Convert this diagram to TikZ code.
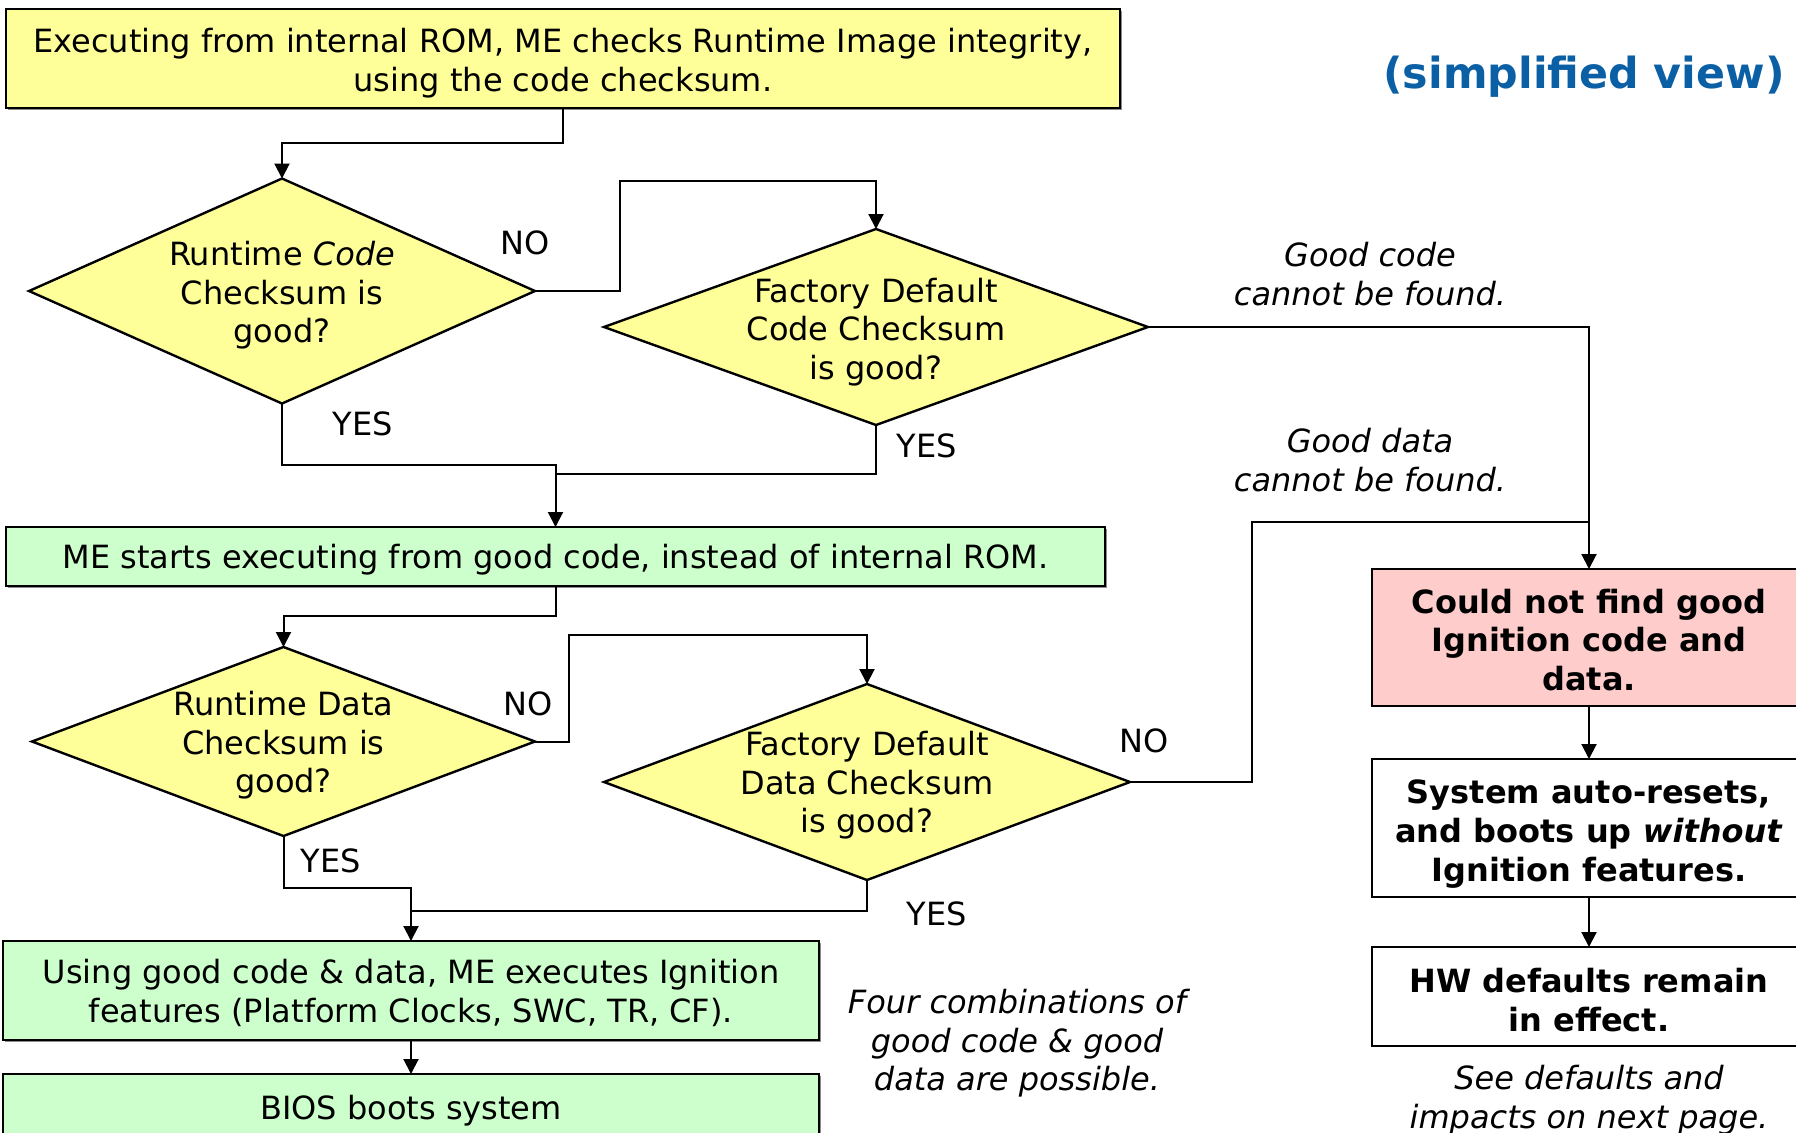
\documentclass[tikz,border=0pt]{standalone}
\usepackage{fontspec}
\setmainfont{DejaVu Sans}
\usetikzlibrary{shapes.geometric,arrows.meta,calc,shadows}
\definecolor{boxyellow}{HTML}{FFFF99}
\definecolor{boxgreen}{HTML}{CCFFCC}
\definecolor{boxpink}{HTML}{FFCCCC}
\definecolor{titleblue}{HTML}{0B5FA5}
% invisible strut that sets the height of a box's first line
\newcommand{\firstline}[1]{\rule{0pt}{#1}}
\begin{document}
\begin{tikzpicture}[x=0.5pt,y=-0.5pt,
  every node/.style={font=\fontsize{16}{19.3}\selectfont, align=center, inner sep=0pt, outer sep=0pt},
  box/.style={draw=black, line width=1.2pt, rectangle},
  shadowed/.style={drop shadow={shadow xshift=0.9pt, shadow yshift=-0.9pt, fill=black!45, opacity=1}},
  dia/.style={draw=black, line width=1.2pt, diamond, fill=boxyellow},
  conn/.style={line width=1pt, draw=black},
  arr/.style={conn, -{Triangle[length=7.5pt,width=7.5pt]}},
  note/.style={font=\fontsize{16}{19.3}\selectfont\itshape},
  boldbox/.style={box, font=\fontsize{16}{19.3}\selectfont\bfseries}]
\useasboundingbox (0,0) rectangle (1796,1132);

% process boxes
\node[box, shadowed, fill=boxyellow, minimum width=557pt, minimum height=49.5pt] (top) at (563,58.5)
  {\firstline{16.7pt}Executing from internal ROM, ME checks Runtime Image integrity,\\using the code checksum.};
\node[box, shadowed, fill=boxgreen, minimum width=549.5pt, minimum height=29.5pt] (me) at (555.5,556.5)
  {\firstline{15.6pt}ME starts executing from good code, instead of internal ROM.};
\node[box, shadowed, fill=boxgreen, minimum width=408pt, minimum height=49.5pt] (using) at (411,990.5)
  {\firstline{14.5pt}Using good code \& data, ME executes Ignition\\features (Platform Clocks, SWC, TR, CF).};
\node[box, shadowed, fill=boxgreen, minimum width=408pt, minimum height=33pt] (bios) at (411,1107)
  {\firstline{15.6pt}BIOS boots system};

% decisions
\node[dia, minimum width=253pt, minimum height=112.5pt] (d1) at (282,291) {};
\node (d1t) at (282,295.5) {Runtime \textit{Code}\\Checksum is\\good?};
\node[dia, minimum width=272pt, minimum height=98pt] (d2) at (876,327) {};
\node (d2t) at (876,332) {Factory Default\\Code Checksum\\is good?};
\node[dia, minimum width=251.5pt, minimum height=94.5pt] (d3) at (283.5,741.5) {};
\node (d3t) at (283.5,745.5) {Runtime Data\\Checksum is\\good?};
\node[dia, minimum width=263pt, minimum height=98pt] (d4) at (867,782) {};
\node (d4t) at (867,785.5) {Factory Default\\Data Checksum\\is good?};

% failure path
\node[boldbox, fill=boxpink, minimum width=217pt, minimum height=68.5pt] (could) at (1589,637.5)
  {\firstline{14.5pt}Could not find good\\Ignition code and\\data.};
\node[boldbox, fill=white, minimum width=217pt, minimum height=69pt] (sys) at (1589,828)
  {\firstline{18pt}System auto-resets,\\and boots up \textit{without}\\Ignition features.};
\node[boldbox, fill=white, minimum width=217pt, minimum height=49.5pt] (hw) at (1589,996.5)
  {\firstline{15.6pt}HW defaults remain\\in effect.};

% connectors
\draw[arr] (top.south) -- ++(0,35) -| (d1.north);
\draw[arr] (d1.east) -- ++(85,0) |- ($(d2.north)+(0,-48)$) -- (d2.north);
\draw[arr] (d2.east) -| (could.north);
\draw[arr] (d1.south) -- ++(0,61) -| (me.north);
\draw[conn] (d2.south) |- ($(me.north)+(0,-53)$);
\draw[arr] (me.south) -- ++(0,30) -| (d3.north);
\draw[arr] (d3.east) -- ++(34,0) |- ($(d4.north)+(0,-49)$) -- (d4.north);
\draw[conn] (d4.east) -- ++(122,0) |- ($(could.north)+(0,-47)$);
\draw[arr] (d3.south) -- ++(0,52) -| (using.north);
\draw[conn] (d4.south) |- ($(using.north)+(0,-30)$);
\draw[arr] (using.south) -- (bios.north);
\draw[arr] (could.south) -- (sys.north);
\draw[arr] (sys.south) -- (hw.north);

% branch labels
\node (no1) at (525,243) {NO};
\node (no2) at (528,704) {NO};
\node (no3) at (1144,741) {NO};
\node (yes1) at (363,424) {YES};
\node (yes2) at (927,446) {YES};
\node (yes3) at (331,861) {YES};
\node (yes4) at (937,914) {YES};

% notes
\node[note] (ncode) at (1370,274) {Good code\\cannot be found.};
\node[note] (ndata) at (1370,460) {Good data\\cannot be found.};
\node[note] (nfour) at (1017,1043.5) {Four combinations of\\good code \& good\\data are possible.};
\node[note] (nsee) at (1589,1100) {See defaults and\\impacts on next page.};
\node[font=\fontsize{21.4}{25}\selectfont\bfseries, text=titleblue] (title) at (1584,76.5) {(simplified view)};
\end{tikzpicture}
\end{document}
